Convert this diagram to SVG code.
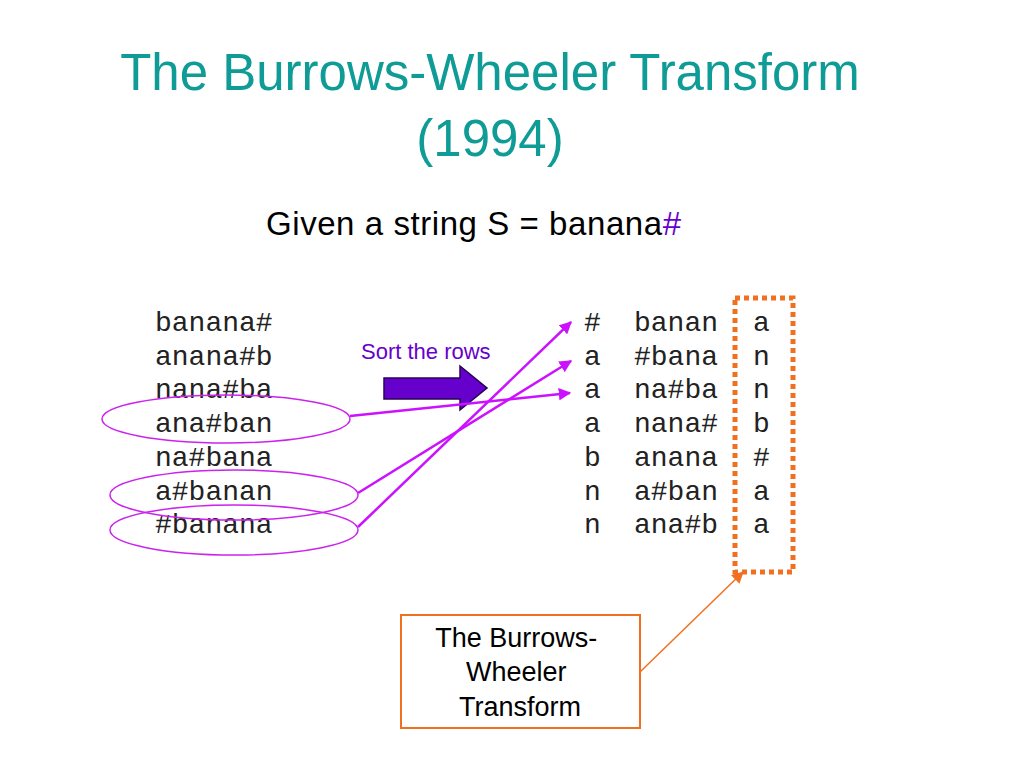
<svg xmlns="http://www.w3.org/2000/svg" width="1024" height="768" viewBox="0 0 1024 768">
<style>
.title{font-family:"Liberation Sans",Arial,sans-serif;font-size:51px;fill:#0f9b96;text-anchor:middle}
.sans{font-family:"Liberation Sans",Arial,sans-serif}
.mono{font-family:"Liberation Mono","Courier New",monospace;font-size:28px;fill:#222}
.ell{fill:none;stroke:#cc22ee;stroke-width:1.5}
.conn{fill:none;stroke:#cc11ff;stroke-width:2.5}
</style>
<defs>
<marker id="ah" viewBox="0 0 10 10" refX="9" refY="5" markerWidth="5" markerHeight="5" orient="auto" markerUnits="strokeWidth">
<path d="M0,0 L10,5 L0,10 z" fill="#cc11ff"/>
</marker>
<marker id="ao" viewBox="0 0 10 10" refX="9" refY="5" markerWidth="8" markerHeight="8" orient="auto" markerUnits="strokeWidth">
<path d="M0,0 L10,5 L0,10 z" fill="#f07020"/>
</marker>
</defs>
<rect width="1024" height="768" fill="#fff"/>
<g id="title">
<text class="title" x="490" y="90">The Burrows-Wheeler Transform</text>
<text class="title" x="490" y="156">(1994)</text>
</g>
<g id="subtitle">
<text class="sans" x="266" y="235" font-size="33" fill="#000" textLength="415" lengthAdjust="spacing">Given a string S = banana<tspan fill="#6600cc">#</tspan></text>
</g>
<g id="rotations" class="mono">
<text x="155" y="331">banana#</text>
<text x="155" y="365">anana#b</text>
<text x="155" y="398">nana#ba</text>
<text x="155" y="432">ana#ban</text>
<text x="155" y="466">na#bana</text>
<text x="155" y="500">a#banan</text>
<text x="155" y="533">#banana</text>
</g>
<g id="ellipses">
<ellipse class="ell" cx="226" cy="419" rx="124" ry="24"/>
<ellipse class="ell" cx="234" cy="495" rx="124" ry="25"/>
<ellipse class="ell" cx="234" cy="530" rx="124" ry="25"/>
</g>
<g id="sort-arrow">
<text class="sans" x="361" y="359" font-size="22" fill="#6600cc">Sort the rows</text>
<path d="M384,378 L460,378 L460,366 L487,388 L460,410 L460,399 L384,399 z" fill="#6600cc" stroke="#2a0055" stroke-width="1.5"/>
</g>
<g id="sorted" class="mono">
<text x="584" y="331">#</text><text x="634" y="331">banan</text><text x="753" y="331">a</text>
<text x="584" y="365">a</text><text x="634" y="365">#bana</text><text x="753" y="365">n</text>
<text x="584" y="398">a</text><text x="634" y="398">na#ba</text><text x="753" y="398">n</text>
<text x="584" y="432">a</text><text x="634" y="432">nana#</text><text x="753" y="432">b</text>
<text x="584" y="466">b</text><text x="634" y="466">anana</text><text x="753" y="466">#</text>
<text x="584" y="500">n</text><text x="634" y="500">a#ban</text><text x="753" y="500">a</text>
<text x="584" y="533">n</text><text x="634" y="533">ana#b</text><text x="753" y="533">a</text>
</g>
<g id="bwt-column">
<rect x="735" y="298" width="58" height="274" fill="none" stroke="#f07020" stroke-width="5" stroke-dasharray="5,4"/>
</g>
<g id="bwt-label">
<rect x="401" y="615" width="239" height="113" fill="#fff" stroke="#f07020" stroke-width="2"/>
<text class="sans" font-size="27" fill="#000" text-anchor="middle">
<tspan x="520" y="647">The Burrows-</tspan>
<tspan x="520" y="681">Wheeler</tspan>
<tspan x="520" y="716">Transform</tspan>
</text>
</g>
<g id="connectors">
<line class="conn" x1="350" y1="416" x2="570" y2="393" marker-end="url(#ah)"/>
<line class="conn" x1="358" y1="493" x2="571" y2="361" marker-end="url(#ah)"/>
<line class="conn" x1="358" y1="527" x2="571" y2="322" marker-end="url(#ah)"/>
<line x1="640" y1="672" x2="743" y2="572" stroke="#f07020" stroke-width="1.5" marker-end="url(#ao)"/>
</g>
</svg>
